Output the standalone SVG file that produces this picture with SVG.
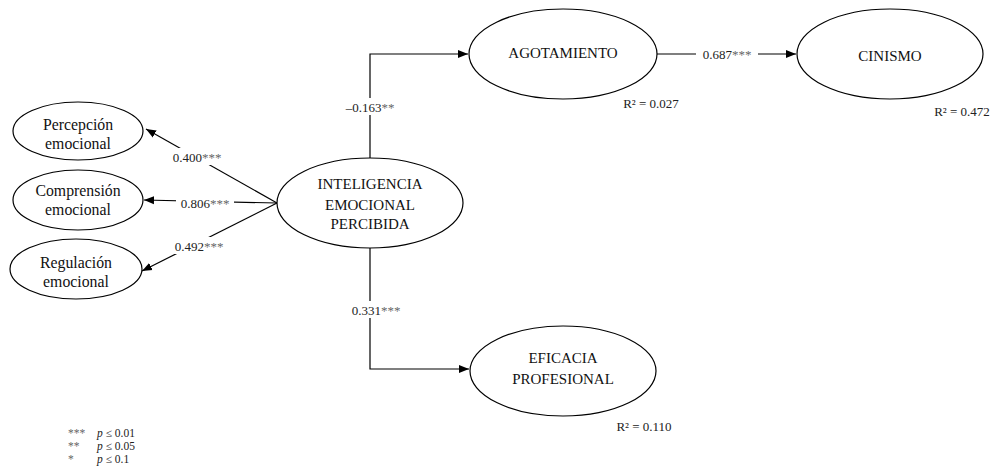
<svg xmlns="http://www.w3.org/2000/svg" width="999" height="472" viewBox="0 0 999 472">
<style>
.n{fill:#fff;stroke:#000;stroke-width:1.2}
.t{font-family:"Liberation Serif","Times New Roman",serif;font-size:15px;fill:#111;text-anchor:middle;dominant-baseline:central}
.t2{font-size:15.8px}
.l{font-family:"Liberation Serif","Times New Roman",serif;font-size:13px;fill:#222;text-anchor:middle;dominant-baseline:central}
.s{fill:#666}
.c{fill:none;stroke:#000;stroke-width:1.2}
.bg{fill:#fff}
.g{font-family:"Liberation Serif","Times New Roman",serif;font-size:11.5px;fill:#222}
</style>
<defs>
<marker id="a" viewBox="0 0 10 10" refX="10" refY="5" markerWidth="10" markerHeight="10" markerUnits="userSpaceOnUse" orient="auto">
<path d="M0,1 L10,5 L0,9 z" fill="#000"/>
</marker>
</defs>
<rect width="999" height="472" fill="#fff"/>
<g id="connectors">
<path class="c" d="M370,158 V54 H468" marker-end="url(#a)"/>
<path class="c" d="M657,54 H796" marker-end="url(#a)"/>
<path class="c" d="M370,248 V369 H469" marker-end="url(#a)"/>
<path class="c" d="M277,203 L146,129" marker-end="url(#a)"/>
<path class="c" d="M277,203 L144,200" marker-end="url(#a)"/>
<path class="c" d="M277,203 L142,271" marker-end="url(#a)"/>
<rect class="bg" x="342" y="98" width="56" height="17"/>
<text class="l" x="370" y="107">–0.163<tspan class="s">**</tspan></text>
<rect class="bg" x="696" y="46" width="62" height="17"/>
<text class="l" x="727" y="54">0.687<tspan class="s">***</tspan></text>
<rect class="bg" x="348" y="301" width="56" height="17"/>
<text class="l" x="376" y="310">0.331<tspan class="s">***</tspan></text>
<rect class="bg" x="168" y="148" width="58" height="17"/>
<text class="l" x="197" y="157">0.400<tspan class="s">***</tspan></text>
<rect class="bg" x="176" y="194" width="58" height="17"/>
<text class="l" x="205" y="203">0.806<tspan class="s">***</tspan></text>
<rect class="bg" x="170" y="237" width="58" height="17"/>
<text class="l" x="199" y="246">0.492<tspan class="s">***</tspan></text>
</g>
<g id="iep">
<ellipse class="n" cx="370" cy="203" rx="93" ry="45"/>
<text class="t" x="370" y="184">INTELIGENCIA</text>
<text class="t" x="370" y="205">EMOCIONAL</text>
<text class="t" x="370" y="224">PERCIBIDA</text>
</g>
<g id="agotamiento">
<ellipse class="n" cx="563" cy="54" rx="94" ry="45"/>
<text class="t" x="563" y="53">AGOTAMIENTO</text>
<text class="l" x="651" y="103">R² = 0.027</text>
</g>
<g id="cinismo">
<ellipse class="n" cx="890" cy="54" rx="93" ry="45"/>
<text class="t" x="890" y="56">CINISMO</text>
<text class="l" x="962" y="111">R² = 0.472</text>
</g>
<g id="eficacia">
<ellipse class="n" cx="563" cy="371" rx="93" ry="45"/>
<text class="t" x="563" y="358">EFICACIA</text>
<text class="t" x="563" y="379">PROFESIONAL</text>
<text class="l" x="644" y="426">R² = 0.110</text>
</g>
<g id="percepcion">
<ellipse class="n" cx="78" cy="131" rx="65" ry="29"/>
<text class="t t2" x="78" y="124">Percepción</text>
<text class="t t2" x="78" y="143">emocional</text>
</g>
<g id="comprension">
<ellipse class="n" cx="78" cy="200" rx="65" ry="30"/>
<text class="t t2" x="78" y="190">Comprensión</text>
<text class="t t2" x="78" y="209">emocional</text>
</g>
<g id="regulacion">
<ellipse class="n" cx="76" cy="269" rx="66" ry="30"/>
<text class="t t2" x="76" y="262">Regulación</text>
<text class="t t2" x="76" y="281">emocional</text>
</g>
<g id="legend">
<text class="g" x="68" y="437"><tspan fill="#666">***</tspan></text>
<text class="g" x="97" y="437"><tspan font-style="italic">p</tspan> ≤ 0.01</text>
<text class="g" x="68" y="450"><tspan fill="#666">**</tspan></text>
<text class="g" x="97" y="450"><tspan font-style="italic">p</tspan> ≤ 0.05</text>
<text class="g" x="68" y="463"><tspan fill="#666">*</tspan></text>
<text class="g" x="97" y="463"><tspan font-style="italic">p</tspan> ≤ 0.1</text>
</g>
</svg>
